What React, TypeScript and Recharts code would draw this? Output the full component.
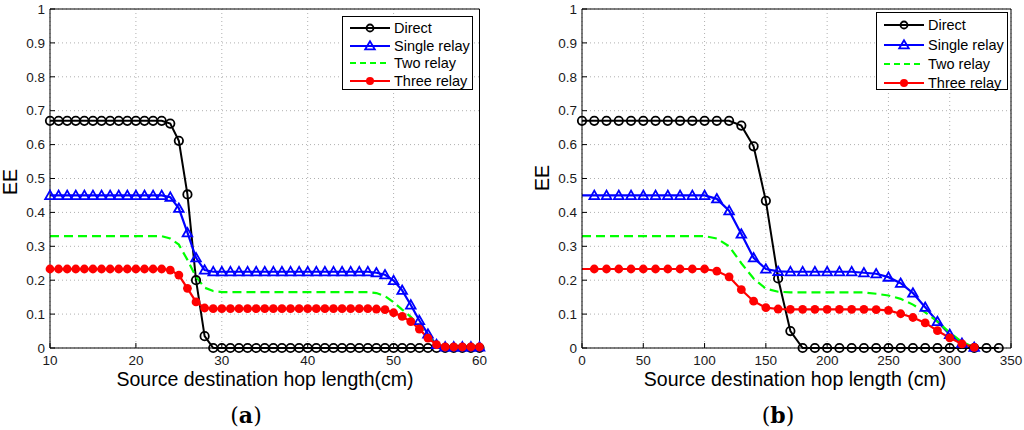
import React from 'react';
import { LineChart, Line, XAxis, YAxis, CartesianGrid, Legend } from 'recharts';

// ---------- (a) ----------
const xA = [10, 11, 12, 13, 14, 15, 16, 17, 18, 19, 20, 21, 22, 23, 24, 25, 26, 27, 28, 29, 30, 31, 32, 33, 34, 35, 36, 37, 38, 39, 40, 41, 42, 43, 44, 45, 46, 47, 48, 49, 50, 51, 52, 53, 54, 55, 56, 57, 58, 59, 60];
const directA = [0.67, 0.67, 0.67, 0.67, 0.67, 0.67, 0.67, 0.67, 0.67, 0.67, 0.67, 0.67, 0.67, 0.67, 0.662, 0.611, 0.453, 0.2, 0.035, 0, 0, 0, 0, 0, 0, 0, 0, 0, 0, 0, 0, 0, 0, 0, 0, 0, 0, 0, 0, 0, 0, 0, 0, 0, 0, 0, 0, 0, 0, 0, 0];
const singleA = [0.45, 0.45, 0.45, 0.45, 0.45, 0.45, 0.45, 0.45, 0.45, 0.45, 0.45, 0.45, 0.45, 0.45, 0.445, 0.412, 0.34, 0.266, 0.23, 0.225, 0.225, 0.225, 0.225, 0.225, 0.225, 0.225, 0.225, 0.225, 0.225, 0.225, 0.225, 0.225, 0.225, 0.225, 0.225, 0.225, 0.225, 0.225, 0.222, 0.216, 0.199, 0.17, 0.127, 0.081, 0.041, 0.01, 0.003, 0.003, 0.003, 0.003, 0.003];
const twoA = [0.33, 0.33, 0.33, 0.33, 0.33, 0.33, 0.33, 0.33, 0.33, 0.33, 0.33, 0.33, 0.33, 0.33, 0.323, 0.305, 0.26, 0.21, 0.178, 0.168, 0.165, 0.165, 0.165, 0.165, 0.165, 0.165, 0.165, 0.165, 0.165, 0.165, 0.165, 0.165, 0.165, 0.165, 0.165, 0.165, 0.165, 0.165, 0.162, 0.153, 0.135, 0.113, 0.092, 0.064, 0.034, 0.01, 0.002, 0.002, 0.002, 0.002, 0.002];
const threeA = [0.233, 0.233, 0.233, 0.233, 0.233, 0.233, 0.233, 0.233, 0.233, 0.233, 0.233, 0.233, 0.233, 0.233, 0.23, 0.215, 0.176, 0.136, 0.118, 0.116, 0.116, 0.116, 0.116, 0.116, 0.116, 0.116, 0.116, 0.116, 0.116, 0.116, 0.116, 0.116, 0.116, 0.116, 0.116, 0.116, 0.116, 0.116, 0.115, 0.113, 0.104, 0.093, 0.078, 0.056, 0.029, 0.01, 0.003, 0.003, 0.003, 0.003, 0.003];
const xTicksA = [10, 20, 30, 40, 50, 60];

// ---------- (b) ----------
const xDirectB = [0, 10, 20, 30, 40, 50, 60, 70, 80, 90, 100, 110, 120, 130, 140, 150, 160, 170, 180, 190, 200, 210, 220, 230, 240, 250, 260, 270, 280, 290, 300, 310, 320, 330, 340];
const directB = [0.67, 0.67, 0.67, 0.67, 0.67, 0.67, 0.67, 0.67, 0.67, 0.67, 0.67, 0.67, 0.67, 0.656, 0.595, 0.434, 0.205, 0.05, 0, 0, 0, 0, 0, 0, 0, 0, 0, 0, 0, 0, 0, 0, 0, 0, 0];
const xRelayB = [0, 10, 20, 30, 40, 50, 60, 70, 80, 90, 100, 110, 120, 130, 140, 150, 160, 170, 180, 190, 200, 210, 220, 230, 240, 250, 260, 270, 280, 290, 300, 310, 320];
const singleB = [0.45, 0.45, 0.45, 0.45, 0.45, 0.45, 0.45, 0.45, 0.45, 0.45, 0.45, 0.44, 0.405, 0.336, 0.266, 0.233, 0.226, 0.225, 0.225, 0.225, 0.225, 0.225, 0.225, 0.222, 0.219, 0.209, 0.191, 0.162, 0.12, 0.078, 0.04, 0.014, 0.002];
const twoB = [0.33, 0.33, 0.33, 0.33, 0.33, 0.33, 0.33, 0.33, 0.33, 0.33, 0.33, 0.323, 0.3, 0.25, 0.205, 0.175, 0.166, 0.164, 0.164, 0.164, 0.164, 0.164, 0.164, 0.164, 0.16, 0.155, 0.145, 0.128, 0.105, 0.078, 0.045, 0.018, 0.002];
const threeB = [0.233, 0.233, 0.233, 0.233, 0.233, 0.233, 0.233, 0.233, 0.233, 0.233, 0.233, 0.227, 0.21, 0.172, 0.138, 0.119, 0.115, 0.114, 0.114, 0.114, 0.114, 0.114, 0.114, 0.114, 0.113, 0.111, 0.101, 0.09, 0.074, 0.051, 0.03, 0.012, 0.002];
const xTicksB = [0, 50, 100, 150, 200, 250, 300, 350];

const yTicks = [0, 0.1, 0.2, 0.3, 0.4, 0.5, 0.6, 0.7, 0.8, 0.9, 1];
const seriesNames = ['Direct', 'Single relay', 'Two relay', 'Three relay'];
const seriesColors = ['#000000', '#0000ff', '#00ff00', '#ff0000'];

const mk = (xs: number[], ys: number[]) => xs.map((x, i) => ({ x, y: ys[i] }));

const SANS = '"Liberation Sans", Arial, Helvetica, sans-serif';
const tickStyle = { fontSize: 13.5, fontFamily: SANS, fill: '#1a1a1a' };

const makeTriangle = (skipFirst: boolean) => (p: any) => {
  const { cx, cy, index } = p;
  if ((skipFirst && index === 0) || cx == null || cy == null) return <g key={`t${index}`} />;
  const s = 4.8;
  const pts = `${cx},${cy - s} ${cx - s},${cy + s * 0.75} ${cx + s},${cy + s * 0.75}`;
  return <polygon key={`t${index}`} points={pts} fill="none" stroke={seriesColors[1]} strokeWidth={1.8} />;
};
const makeFilled = (skipFirst: boolean) => (p: any) => {
  const { cx, cy, index } = p;
  if ((skipFirst && index === 0) || cx == null || cy == null) return <g key={`f${index}`} />;
  return <circle key={`f${index}`} cx={cx} cy={cy} r={4.4} fill={seriesColors[3]} stroke="none" />;
};

type LegendBox = { left: number; top: number; width: number; height: number; first: number; step: number };

const LegendContent = ({ box }: { box: LegendBox }) => (
  <div
    style={{
      position: 'relative',
      width: box.width,
      height: box.height,
      boxSizing: 'border-box',
      border: '1px solid #000',
      background: '#fff',
      fontFamily: SANS,
      fontSize: 14.5,
      color: '#000',
    }}
  >
    {seriesNames.map((name, i) => {
      const cy = box.first + i * box.step;
      return (
        <div key={name} style={{ position: 'absolute', left: 0, top: cy - 10, height: 20, width: '100%' }}>
          <svg width={44} height={20} style={{ position: 'absolute', left: 7, top: 0 }}>
            <line
              x1={0}
              x2={40}
              y1={10}
              y2={10}
              stroke={seriesColors[i]}
              strokeWidth={2}
              strokeDasharray={i === 2 ? '6 4' : undefined}
            />
            {i === 0 && <circle cx={20} cy={10} r={3.5} fill="none" stroke="#000" strokeWidth={1.8} />}
            {i === 1 && <polygon points="20,5.2 15.2,13.4 24.8,13.4" fill="none" stroke={seriesColors[1]} strokeWidth={1.8} />}
            {i === 3 && <circle cx={20} cy={10} r={4} fill={seriesColors[3]} />}
          </svg>
          <span style={{ position: 'absolute', left: 51, top: 1, lineHeight: '18px', whiteSpace: 'nowrap' }}>{name}</span>
        </div>
      );
    })}
  </div>
);

type PanelProps = {
  left: number;
  marginLeft: number;
  marginRight: number;
  xTicks: number[];
  domain: [number, number];
  direct: { x: number; y: number }[];
  single: { x: number; y: number }[];
  two: { x: number; y: number }[];
  three: { x: number; y: number }[];
  skipFirst: boolean;
  legend: LegendBox;
};

const Panel = (p: PanelProps) => (
  <div style={{ position: 'absolute', left: p.left, top: 0 }}>
    <LineChart width={512} height={430} margin={{ top: 8, right: p.marginRight, bottom: 52, left: p.marginLeft }}>
      <CartesianGrid stroke="#b0b0b0" strokeDasharray="1 3" strokeWidth={1} />
      <XAxis
        dataKey="x"
        type="number"
        domain={p.domain}
        ticks={p.xTicks}
        height={30}
        tickSize={-5}
        tickMargin={12}
        tick={tickStyle}
        stroke="#000"
        tickLine={{ stroke: '#000' }}
        axisLine={{ stroke: '#000' }}
        interval={0}
        allowDecimals
      />
      <XAxis
        xAxisId="top"
        orientation="top"
        dataKey="x"
        type="number"
        domain={p.domain}
        ticks={p.xTicks}
        height={1}
        tickSize={-5}
        tick={false}
        stroke="#000"
        tickLine={{ stroke: '#000' }}
        axisLine={{ stroke: '#000' }}
        interval={0}
      />
      <YAxis
        type="number"
        domain={[0, 1]}
        ticks={yTicks}
        width={50}
        tickSize={-5}
        tickMargin={10}
        tick={tickStyle}
        stroke="#000"
        tickLine={{ stroke: '#000' }}
        axisLine={{ stroke: '#000' }}
        interval={0}
      />
      <YAxis
        yAxisId="right"
        orientation="right"
        type="number"
        domain={[0, 1]}
        ticks={yTicks}
        width={1}
        tickSize={-5}
        tick={false}
        stroke="#000"
        tickLine={{ stroke: '#000' }}
        axisLine={{ stroke: '#000' }}
        interval={0}
      />
      <Line
        data={p.direct}
        dataKey="y"
        name={seriesNames[0]}
        stroke={seriesColors[0]}
        strokeWidth={2}
        dot={{ r: 4.2, fill: 'none', stroke: '#000', strokeWidth: 1.8 }}
        activeDot={false}
        isAnimationActive={false}
      />
      <Line
        data={p.single}
        dataKey="y"
        name={seriesNames[1]}
        stroke={seriesColors[1]}
        strokeWidth={2.2}
        dot={makeTriangle(p.skipFirst)}
        activeDot={false}
        isAnimationActive={false}
      />
      <Line
        data={p.two}
        dataKey="y"
        name={seriesNames[2]}
        stroke={seriesColors[2]}
        strokeWidth={2.2}
        strokeDasharray="9 5"
        dot={false}
        activeDot={false}
        isAnimationActive={false}
      />
      <Line
        data={p.three}
        dataKey="y"
        name={seriesNames[3]}
        stroke={seriesColors[3]}
        strokeWidth={2.2}
        dot={makeFilled(p.skipFirst)}
        activeDot={false}
        isAnimationActive={false}
      />
      <Legend
        layout="vertical"
        align="center"
        verticalAlign="middle"
        wrapperStyle={{ left: p.legend.left, top: p.legend.top, width: p.legend.width, height: p.legend.height }}
        content={() => <LegendContent box={p.legend} />}
      />
    </LineChart>
  </div>
);

const textBase: React.CSSProperties = {
  position: 'absolute',
  whiteSpace: 'nowrap',
  color: '#000',
};

export default function App() {
  return (
    <div style={{ position: 'absolute', left: 0, top: 0, width: 1024, height: 430, background: '#fff', overflow: 'hidden' }}>
      <Panel
        left={0}
        marginLeft={0}
        marginRight={31.5}
        xTicks={xTicksA}
        domain={[10, 60]}
        direct={mk(xA, directA)}
        single={mk(xA, singleA)}
        two={mk(xA, twoA)}
        three={mk(xA, threeA)}
        skipFirst={false}
        legend={{ left: 342, top: 16, width: 131, height: 74, first: 10.7, step: 17.8 }}
      />
      <Panel
        left={512}
        marginLeft={20}
        marginRight={12}
        xTicks={xTicksB}
        domain={[0, 350]}
        direct={mk(xDirectB, directB)}
        single={mk(xRelayB, singleB)}
        two={mk(xRelayB, twoB)}
        three={mk(xRelayB, threeB)}
        skipFirst={true}
        legend={{ left: 364, top: 12, width: 132, height: 78, first: 12.3, step: 19.3 }}
      />
      {/* y labels */}
      <div style={{ ...textBase, left: 10, top: 182, fontFamily: SANS, fontSize: 19.5, transform: 'translate(-50%, -50%) rotate(-90deg)' }}>EE</div>
      <div style={{ ...textBase, left: 542, top: 178, fontFamily: SANS, fontSize: 19.5, transform: 'translate(-50%, -50%) rotate(-90deg)' }}>EE</div>
      {/* x labels */}
      <div style={{ ...textBase, left: 265, top: 379, fontFamily: SANS, fontSize: 19.5, transform: 'translate(-50%, -50%)' }}>Source destination hop length(cm)</div>
      <div style={{ ...textBase, left: 795, top: 379, fontFamily: SANS, fontSize: 19.5, transform: 'translate(-50%, -50%)' }}>Source destination hop length (cm)</div>
      {/* panel captions */}
      <div style={{ ...textBase, left: 246, top: 415, fontFamily: '"DejaVu Serif", "Liberation Serif", serif', fontSize: 22, transform: 'translate(-50%, -50%)' }}>
        (<b>a</b>)
      </div>
      <div style={{ ...textBase, left: 778, top: 415, fontFamily: '"DejaVu Serif", "Liberation Serif", serif', fontSize: 22, transform: 'translate(-50%, -50%)' }}>
        (<b>b</b>)
      </div>
    </div>
  );
}
